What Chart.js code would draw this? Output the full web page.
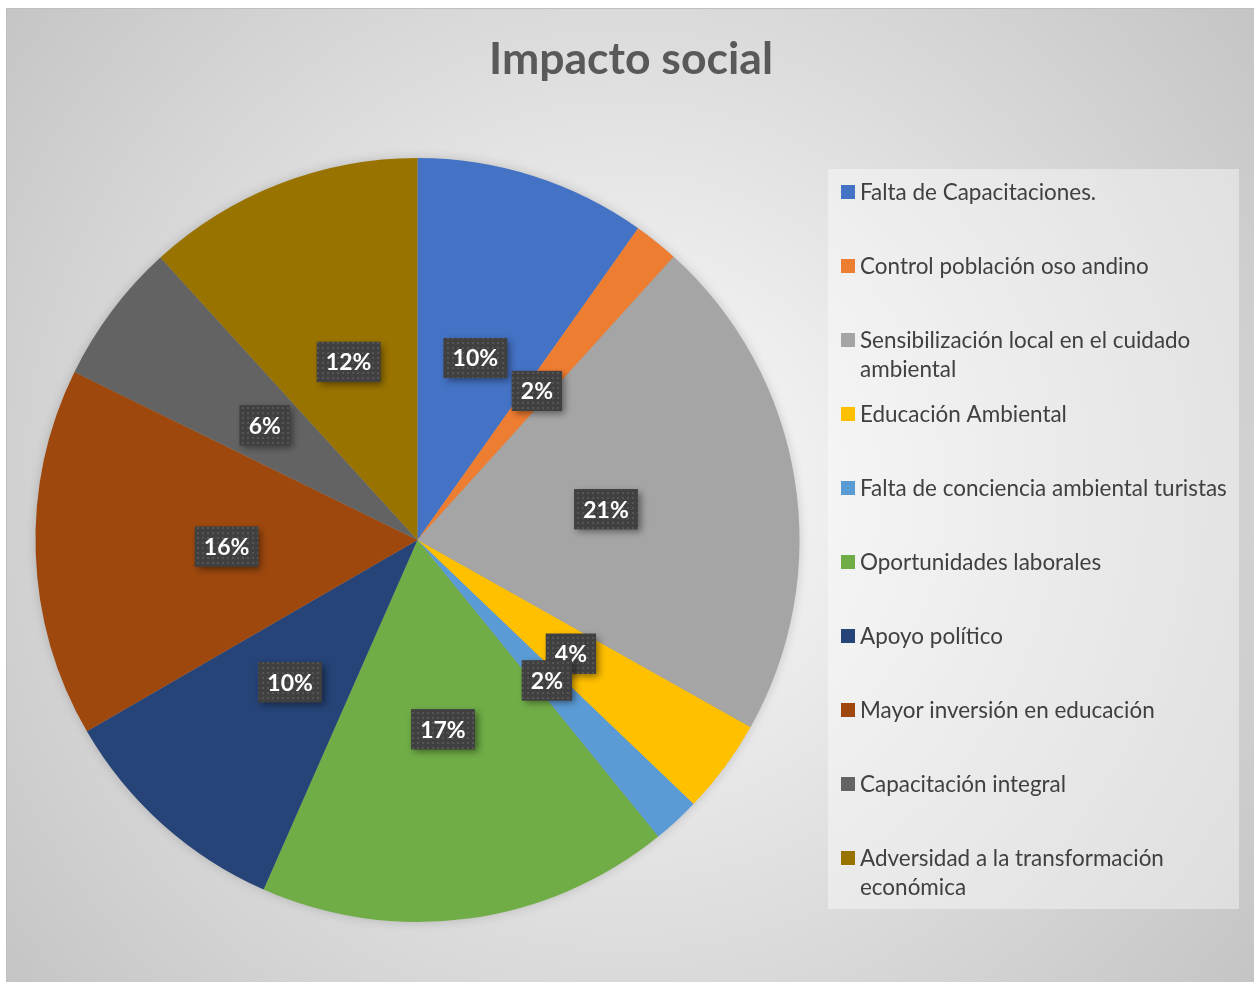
<!DOCTYPE html>
<html><head><meta charset="utf-8">
<script src="https://cdn.jsdelivr.net/npm/chart.js@4"></script>
<style>html,body{margin:0;padding:0;background:#fff;}canvas{display:block;}</style>
</head><body>
<canvas id="c" width="1254" height="982"></canvas>
<script>
const chartTitle = "Impacto social";
const categories = [
  "Falta de Capacitaciones.",
  "Control población oso andino",
  "Sensibilización local en el cuidado ambiental",
  "Educación Ambiental",
  "Falta de conciencia ambiental turistas",
  "Oportunidades laborales",
  "Apoyo político",
  "Mayor inversión en educación",
  "Capacitación integral",
  "Adversidad a la transformación económica"
];
const values = [9.8, 1.9, 21.45, 4.0, 2.0, 17.45, 10.05, 15.6, 6.0, 11.75];
const colors = ["#4472C4","#ED7D31","#A5A5A5","#FFC000","#5B9BD5","#70AD47","#264478","#9E480E","#636363","#997300"];

const FONT = "Lato, 'Open Sans', 'Noto Sans', sans-serif";

function fitFont(ctx, text, weight, targetW) {
  let size = 40;
  ctx.font = weight + " " + size + "px " + FONT;
  const w = ctx.measureText(text).width;
  return size * targetW / w;
}

const bgPlugin = {
  id: 'bg',
  beforeDraw(chart) {
    const ctx = chart.ctx;
    ctx.save();
    ctx.fillStyle = "#ffffff";
    ctx.fillRect(0, 0, chart.width, chart.height);
    const g = ctx.createRadialGradient(627, 491, 0, 627, 491, 800);
    g.addColorStop(0, "#fcfcfc");
    g.addColorStop(1, "#c4c4c4");
    ctx.fillStyle = g;
    ctx.fillRect(6, 8, chart.width - 6, chart.height - 8);
    ctx.strokeStyle = "#bfbfbf";
    ctx.lineWidth = 1;
    ctx.strokeRect(6.5, 8.5, chart.width, chart.height);
    // title
    const ts = fitFont(ctx, chartTitle, "bold", 284);
    ctx.font = "bold " + ts + "px " + FONT;
    ctx.fillStyle = "#595959";
    ctx.textAlign = "center";
    ctx.textBaseline = "middle";
    ctx.fillText(chartTitle, 631, 60);
    // legend box
    ctx.fillStyle = "rgba(255,255,255,0.4)";
    ctx.fillRect(828, 169, 411, 740);
    // legend items
    const ls = fitFont(ctx, "Falta de conciencia ambiental turistas", "normal", 367);
    ctx.font = "normal " + ls + "px " + FONT;
    const maxW = ctx.measureText("Falta de conciencia ambiental turistas").width + 4;
    ctx.textAlign = "left";
    categories.forEach((lab, i) => {
      const y = 192 + i * 74;
      ctx.fillStyle = colors[i];
      ctx.fillRect(841, y - 7, 14, 14);
      ctx.fillStyle = "#404040";
      const words = lab.split(" ");
      const lines = [];
      let cur = "";
      words.forEach(w => {
        const t = cur ? cur + " " + w : w;
        if (ctx.measureText(t).width > maxW && cur) { lines.push(cur); cur = w; }
        else cur = t;
      });
      lines.push(cur);
      lines.forEach((ln, k) => ctx.fillText(ln, 860, y + 1 + k * 29));
    });
    ctx.restore();
  },
  beforeDatasetsDraw(chart) {
    const ctx = chart.ctx;
    const a = chart.chartArea;
    const cx = (a.left + a.right) / 2, cy = (a.top + a.bottom) / 2;
    const r = Math.min(a.right - a.left, a.bottom - a.top) / 2;
    ctx.save();
    ctx.shadowColor = "rgba(0,0,0,0.2)";
    ctx.shadowBlur = 12;
    ctx.beginPath();
    ctx.arc(cx, cy, r - 1, 0, Math.PI * 2);
    ctx.fillStyle = "#a0a0a0";
    ctx.fill();
    ctx.restore();
  }
};

function makePattern(ctx) {
  const p = document.createElement("canvas");
  p.width = 5; p.height = 5;
  const pc = p.getContext("2d");
  pc.fillStyle = "#404040";
  pc.fillRect(0, 0, 5, 5);
  pc.fillStyle = "#555555";
  pc.fillRect(2, 2, 2, 2);
  return ctx.createPattern(p, "repeat");
}

const labelPlugin = {
  id: 'lbl',
  afterDatasetsDraw(chart) {
    const ctx = chart.ctx;
    const meta = chart.getDatasetMeta(0);
    const total = values.reduce((s, v) => s + v, 0);
    const pat = makePattern(ctx);
    ctx.save();
    ctx.font = "bold 23px " + FONT;
    meta.data.forEach((arc, i) => {
      const pos = arc.tooltipPosition();
      const txt = Math.round(values[i] / total * 100) + "%";
      const tw = ctx.measureText(txt).width;
      const bw = tw + 18, bh = 40;
      const x = pos.x - bw / 2, y = pos.y - bh / 2;
      ctx.save();
      ctx.shadowColor = "rgba(0,0,0,0.45)";
      ctx.shadowBlur = 7;
      ctx.shadowOffsetX = 3;
      ctx.shadowOffsetY = 3;
      ctx.fillStyle = "#404040";
      ctx.fillRect(x, y, bw, bh);
      ctx.restore();
      ctx.fillStyle = pat;
      ctx.fillRect(x, y, bw, bh);
      ctx.fillStyle = "#ffffff";
      ctx.textAlign = "center";
      ctx.textBaseline = "middle";
      ctx.fillText(txt, pos.x, pos.y + 1);
    });
    ctx.restore();
  }
};

new Chart(document.getElementById("c"), {
  type: "pie",
  data: {
    labels: categories,
    datasets: [{ data: values, backgroundColor: colors, borderWidth: 0 }]
  },
  options: {
    responsive: false,
    devicePixelRatio: 1,
    animation: false,
    layout: { padding: { left: 35.5, right: 454.5, top: 158, bottom: 60 } },
    plugins: { legend: { display: false }, title: { display: false }, tooltip: { enabled: false } }
  },
  plugins: [bgPlugin, labelPlugin]
});
</script>
</body></html>
